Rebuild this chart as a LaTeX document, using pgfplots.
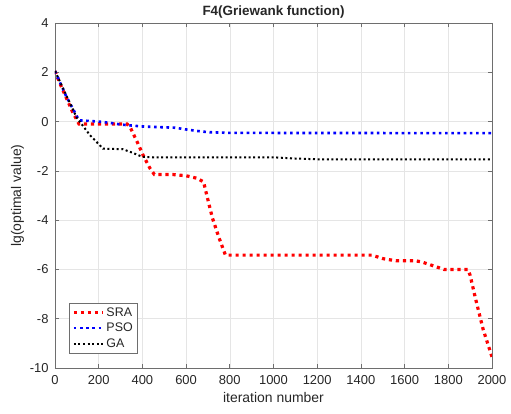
\documentclass[border=0pt]{standalone}
\usepackage{fontspec}
\setmainfont{Liberation Sans}
\usepackage{pgfplots}
\pgfplotsset{compat=1.18}
\begin{document}
\begin{tikzpicture}
\definecolor{axgray}{HTML}{6E6E6E}
\definecolor{txt}{HTML}{262626}
\begin{axis}[
  name=ax,
  scale only axis,
  width=437bp, height=345bp,
  xmin=0, xmax=2000, ymin=-10, ymax=4,
  xtick={0,200,...,2000}, ytick={-10,-8,...,4},
  grid=major,
  grid style={draw=black!10, line width=0.5bp},
  axis line style={draw=axgray, line width=0.7bp},
  tick style={draw=axgray, line width=0.7bp},
  major tick length=4bp,
  tick align=inside,
  tick pos=both,
  /pgf/number format/assume math mode=true,
  /pgf/number format/set thousands separator={},
  tick label style={font=\fontsize{13}{15}\selectfont, text=txt},
  xticklabel style={yshift=-4bp},
  yticklabel style={xshift=-3bp},
  label style={font=\fontsize{14}{16}\selectfont, text=txt},
  xlabel={iteration number},
  ylabel={lg(optimal value)},
  xlabel style={yshift=-1bp},
  ylabel style={yshift=-1bp},
  title={F4(Griewank function)},
  title style={font=\fontsize{13.5}{15}\selectfont\bfseries, text=txt, yshift=-5bp},
  legend style={at={(0.032,0.043)}, anchor=south west, draw=axgray, line width=0.6bp,
    font=\fontsize{12.5}{15}\selectfont, text=txt, inner xsep=3bp, inner ysep=2bp, row sep=1.5bp,
    nodes={inner xsep=2bp}},
  legend cell align=left,
  legend image code/.code={\draw[#1] (0bp,0bp) -- (29bp,0bp);},
]
\addplot[color=red, line width=3.2bp, dash pattern=on 3.2bp off 3.8bp] coordinates {
(0,2.05)(20,1.6)(50,1.0)(80,0.4)(110,-0.1)(150,-0.1)(250,-0.1)(330,-0.1)(345,-0.25)(380,-0.9)(405,-1.4)(435,-1.9)(455,-2.15)(540,-2.15)(600,-2.2)(650,-2.3)(680,-2.45)(695,-3.0)(720,-3.9)(750,-4.7)(780,-5.42)(1450,-5.42)(1500,-5.56)(1560,-5.65)(1650,-5.65)(1680,-5.7)(1720,-5.82)(1780,-6.0)(1890,-6.0)(1900,-6.24)(1925,-7.2)(1960,-8.45)(2000,-9.55)
};
\addplot[color=blue, line width=2.6bp, dash pattern=on 2.6bp off 3.6bp] coordinates {
(0,2.05)(50,1.05)(110,0.05)(200,0.0)(250,-0.05)(300,-0.12)(400,-0.2)(550,-0.25)(600,-0.32)(650,-0.38)(700,-0.43)(800,-0.46)(2000,-0.47)
};
\addplot[color=black, line width=2bp, dash pattern=on 2bp off 2.6bp] coordinates {
(0,2.05)(50,1.1)(100,0.15)(160,-0.55)(220,-1.1)(310,-1.12)(350,-1.25)(400,-1.43)(450,-1.45)(1000,-1.45)(1100,-1.5)(1200,-1.53)(2000,-1.53)
};
\legend{SRA,PSO,GA}
\end{axis}
\pgfresetboundingbox
\path ([shift={(-55bp,-46bp)}]ax.south west) rectangle ([shift={(19bp,23bp)}]ax.north east);
\end{tikzpicture}
\end{document}
